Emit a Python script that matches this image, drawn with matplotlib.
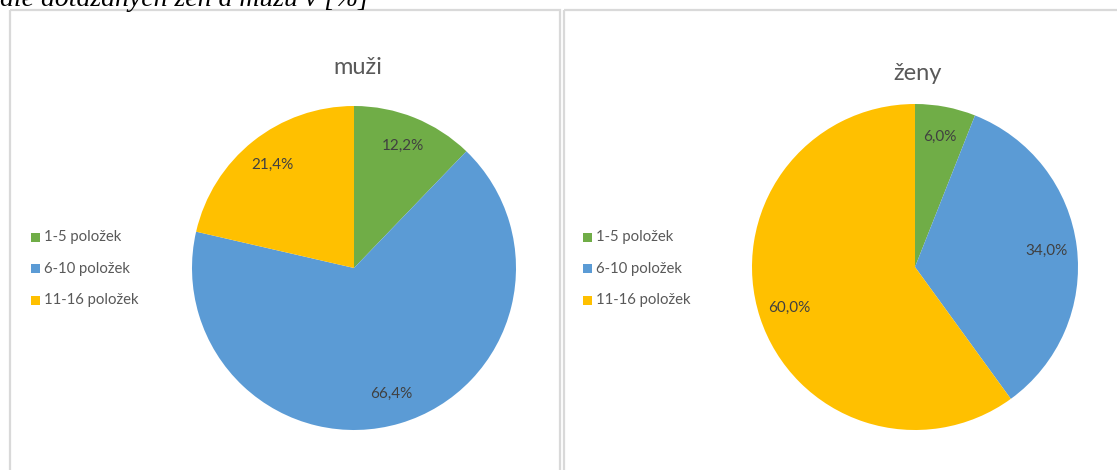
import matplotlib.pyplot as plt
from matplotlib.patches import Rectangle

W, H = 1117, 470

categories = ['1-5 položek', '6-10 položek', '11-16 položek']
muzi = [12.2, 66.4, 21.4]
zeny = [6.0, 34.0, 60.0]
colors = ['#70AD47', '#5B9BD5', '#FFC000']

plt.rcParams['font.family'] = ['Lato', 'DejaVu Sans']

fig = plt.figure(figsize=(W / 100, H / 100), dpi=100)


def px_axes(x, y, w, h, **kw):
    # place axes using pixel coords measured from the top-left corner
    return fig.add_axes([x / W, 1 - (y + h) / H, w / W, h / H], **kw)


def comma_pct(p):
    return f'{p:.1f}'.replace('.', ',') + '%'


# chart frames
bg = px_axes(0, 0, W, H)
bg.set_xlim(0, W)
bg.set_ylim(H, 0)
bg.axis('off')
for x0, x1 in [(10, 560), (564, 1125)]:
    bg.add_patch(Rectangle((x0, 10), x1 - x0, 480, fill=False,
                           edgecolor='#D9D9D9', linewidth=1.6))

# caption line from the surrounding document, clipped by the top edge
bg.text(0, 6, 'dle dotázaných žen a mužů v [%]', family='Liberation Serif',
        style='italic', fontsize=20, color='black', va='baseline', ha='left')

panels = [
    ('muži', muzi, (354, 268), 162, (358, 67), 31),
    ('ženy', zeny, (915, 267), 163, (918, 74), 583),
]

for title, values, (cx, cy), r, (tx, ty), lx in panels:
    ax = px_axes(cx - r, cy - r, 2 * r, 2 * r)
    wedges, _, autotexts = ax.pie(values, colors=colors, startangle=90,
                                  counterclock=False, radius=1,
                                  autopct=comma_pct, pctdistance=0.81,
                                  wedgeprops=dict(linewidth=0),
                                  textprops=dict(color='#404040', fontsize=11))
    ax.set_xlim(-1, 1)
    ax.set_ylim(-1, 1)
    ax.set_aspect('equal')
    ax.axis('off')

    bg.text(tx, ty, title, color='#595959', fontsize=17, ha='center', va='center')

    for i, cat in enumerate(categories):
        ly = 237 + i * 31.5
        bg.add_patch(Rectangle((lx, ly - 4.5), 9, 9, color=colors[i], linewidth=0))
        bg.text(lx + 13, ly, cat, color='#595959', fontsize=10.7, ha='left', va='center')

fig.savefig('out.png', dpi=100, facecolor='white')
